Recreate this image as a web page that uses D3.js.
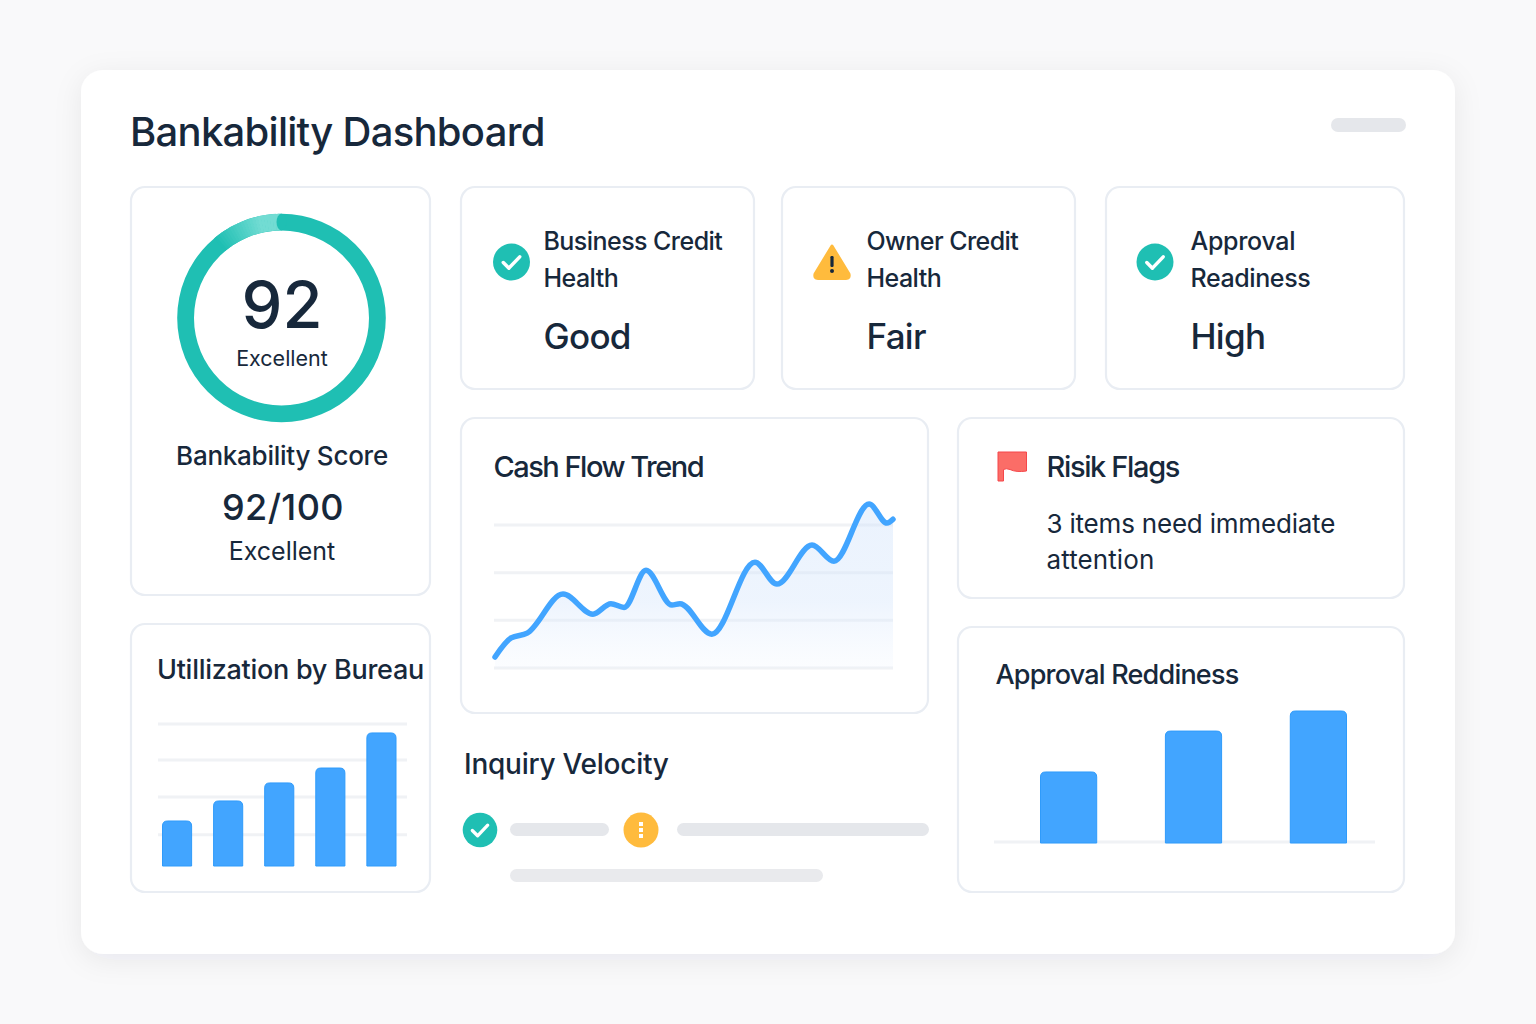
<!DOCTYPE html>
<html><head><meta charset="utf-8">
<script src="https://cdn.jsdelivr.net/npm/d3@7"></script>
<style>html,body{margin:0;padding:0;background:#f9f9fa;overflow:hidden}svg{display:block}text{font-family:Inter,"Noto Sans",sans-serif}</style>
</head><body><div id="chart"></div>
<script>
// ---- data ----
const scoreValue = 92;
const scoreMax = 100;
const cashPeriods = [0.25,4.3,8.3,17.3,24.8,29.3,32.6,38.1,44.6,46.6,54.6,65.4,70.9,79.7,85.2,94,98.5,100];
const cashValues = [2.3,6.3,7.3,15.5,11.3,13.5,12.7,20.5,13.2,13.5,7.1,22.2,17.6,25.8,22.4,34.4,30.4,31.2];
const cashGrid = [0,10,20,30];
const utilCategories = ["A","B","C","D","E"];
const utilValues = [31.7,45.8,58.5,69,93.7];
const utilGrid = [22,48.6,74.6,100];
const approvalCategories = ["A","B","C"];
const approvalValues = [53.8,84.8,100];

const svg = d3.select("#chart").append("svg").attr("width",1536).attr("height",1024);
const defs = svg.append("defs");
const sh = defs.append("filter").attr("id","sh").attr("x","-10%").attr("y","-10%").attr("width","120%").attr("height","120%");
sh.append("feDropShadow").attr("dx",0).attr("dy",6).attr("stdDeviation",14).attr("flood-color","#1f2a44").attr("flood-opacity",0.07);
const ag = defs.append("linearGradient").attr("id","area").attr("x1",0).attr("x2",0).attr("y1",0).attr("y2",1);
ag.append("stop").attr("offset","0%").attr("stop-color","#cfe2fb").attr("stop-opacity",0.42);
ag.append("stop").attr("offset","60%").attr("stop-color","#d6e6fc").attr("stop-opacity",0.42);
ag.append("stop").attr("offset","100%").attr("stop-color","#e6f0fe").attr("stop-opacity",0.15);

const INK="#17283b", TEAL="#1fbfb3", AMBER="#ffbb3d", BLUE="#42a5ff", BLUE2="#2f9bfb", GRID="#f0f2f5", BAR="#e5e7eb";

svg.append("rect").attr("x",81).attr("y",70).attr("width",1374).attr("height",884).attr("rx",22).attr("fill","#fff").attr("filter","url(#sh)");

function card(x0,y0,x1,y1){svg.append("rect").attr("x",x0).attr("y",y0).attr("width",x1-x0).attr("height",y1-y0).attr("rx",14).attr("fill","#fff").attr("stroke","#e9edf3").attr("stroke-width",2.2);}
function label(t,x,y,size,weight,anchor,fill,ls){return svg.append("text").attr("x",x).attr("y",y).attr("font-size",size).attr("font-weight",weight||400).attr("text-anchor",anchor||"start").attr("fill",fill||INK).attr("letter-spacing",ls||0).text(t);}
function pill(x0,x1,y,h,fill){svg.append("rect").attr("x",x0).attr("y",y).attr("width",x1-x0).attr("height",h).attr("rx",h/2).attr("fill",fill||BAR);}
function check(cx,cy,r){svg.append("circle").attr("cx",cx).attr("cy",cy).attr("r",r).attr("fill",TEAL);
  const k=r/18;
  svg.append("path").attr("d",d3.line()([[cx-8*k,cy+0.5*k],[cx-2.5*k,cy+6*k],[cx+8*k,cy-5*k]])).attr("fill","none").attr("stroke","#fff").attr("stroke-width",3.4*k).attr("stroke-linecap","round").attr("stroke-linejoin","round");}

label("Bankability Dashboard",130,146,40,500,"start",INK,-0.72);
pill(1331,1406,118,14,"#e5e7eb");

[[131,187,430,595],[461,187,754,389],[782,187,1075,389],[1106,187,1404,389],[461,418,928,713],[958,418,1404,598],[131,624,430,892],[958,627,1404,892]].forEach(c=>card(...c));

// score ring
const ringC=[281.5,318], rO=104.3, rI=87.5;
const ring=svg.append("g").attr("transform",`translate(${ringC})`);
const arc=d3.arc().innerRadius(rI).outerRadius(rO);
const scoreScale=d3.scaleLinear().domain([0,scoreMax]).range([0,2*Math.PI]);
const endAngle=scoreScale(scoreValue);
ring.append("path").attr("d",arc({startAngle:0,endAngle:2*Math.PI})).attr("fill",TEAL);
const fadeStart=endAngle-0.2;
const fade=d3.interpolateRgb(TEAL,"#72dcd3");
d3.range(24).forEach(i=>{const a=fadeStart+(2*Math.PI-fadeStart)*i/24,b=fadeStart+(2*Math.PI-fadeStart)*(i+1)/24+0.005;
 ring.append("path").attr("d",arc({startAngle:a,endAngle:Math.min(b,2*Math.PI)})).attr("fill",fade(Math.min(1,(i/24)*1.5)));});
ring.append("ellipse").attr("cx",0).attr("cy",-(rO+rI)/2).attr("rx",5).attr("ry",(rO-rI)/2).attr("fill",TEAL);
label(String(scoreValue),282,328,65,500,"middle");
label("Excellent",282,366,21.5,400,"middle");
label("Bankability Score",282,465,26,500,"middle",INK,-0.25);
label(scoreValue+"/"+scoreMax,283,519.5,36,500,"middle",INK,0.4);
label("Excellent",282,560,25,400,"middle");

// status cards
check(511.5,262,18.5);
const L=-0.55;
label("Business Credit",543.5,250,25,500,"start",INK,L); label("Health",543.5,287,25,500,"start",INK,L); label("Good",543.5,349,35,500,"start",INK,-0.7);
svg.append("path").attr("d","M832 246 L849 274 Q850 278.5 846 278.5 L818 278.5 Q814 278.5 815 274 Z").attr("fill",AMBER).attr("stroke",AMBER).attr("stroke-width",3).attr("stroke-linejoin","round");
svg.append("rect").attr("x",830.4).attr("y",256).attr("width",3.2).attr("height",11).attr("rx",1.2).attr("fill",INK);
svg.append("circle").attr("cx",832).attr("cy",271).attr("r",2).attr("fill",INK);
label("Owner Credit",866.5,250,25,500,"start",INK,L); label("Health",866.5,287,25,500,"start",INK,L); label("Fair",866.5,349,35,500,"start",INK,-0.7);
check(1155,262,18.5);
label("Approval",1190.5,250,25,500,"start",INK,-0.3); label("Readiness",1190.5,287,25,500,"start",INK,-0.4); label("High",1190.5,349,35,500,"start",INK,-0.7);

// cash flow
label("Cash Flow Trend",493.5,476.5,29,500,"start",INK,-1.5);
const cx=d3.scaleLinear().domain([0,100]).range([494,893]);
const cy=d3.scaleLinear().domain([0,30]).range([668,525]);
svg.append("g").selectAll("line").data(cashGrid).join("line").attr("x1",494).attr("x2",893).attr("y1",d=>cy(d)).attr("y2",d=>cy(d)).attr("stroke",GRID).attr("stroke-width",3);
const cashData=cashPeriods.map((p,i)=>[p,cashValues[i]]);
const crv=d3.curveMonotoneX;
svg.append("path").attr("d",d3.area().x(d=>cx(d[0])).y0(cy(0)).y1(d=>cy(d[1])).curve(crv)(cashData)).attr("fill","url(#area)");
svg.append("path").attr("d",d3.line().x(d=>cx(d[0])).y(d=>cy(d[1])).curve(crv)(cashData)).attr("fill","none").attr("stroke",BLUE).attr("stroke-width",5.5).attr("stroke-linecap","round").attr("stroke-linejoin","round");

// risk
svg.append("path").attr("d","M998 452 L1026.5 452 L1026.5 471 Q1016 472.5 1010 469.5 Q1006 468 1003.5 469.5 L1003.5 481 L998 481 Z").attr("fill","#fb6d67").attr("stroke","#f5474a").attr("stroke-width",1);
label("Risik Flags",1046.5,476.5,29,500,"start",INK,-1.35);
label("3 items need immediate",1046.5,533,26,400,"start",INK,-0.2); label("attention",1046.5,569,26,400,"start",INK,0.1);

// utilization
label("Utillization by Bureau",157,679,27,500,"start",INK,-0.28);
const ux=d3.scaleBand().domain(utilCategories).range([162.5,396]).paddingInner(0.43).paddingOuter(0);
const uy=d3.scaleLinear().domain([0,100]).range([866,724]);
svg.append("g").selectAll("line").data(utilGrid).join("line").attr("x1",158).attr("x2",407).attr("y1",d=>uy(d)).attr("y2",d=>uy(d)).attr("stroke",GRID).attr("stroke-width",3);
function topRound(x,y,w,h,r){return `M${x} ${y+h}V${y+r}Q${x} ${y} ${x+r} ${y}H${x+w-r}Q${x+w} ${y} ${x+w} ${y+r}V${y+h}Z`;}
svg.append("g").selectAll("path").data(utilCategories).join("path").attr("d",(c,i)=>topRound(ux(c),uy(utilValues[i]),ux.bandwidth(),uy(0)-uy(utilValues[i]),5)).attr("fill",BLUE).attr("stroke",BLUE2).attr("stroke-width",1);

// inquiry velocity
label("Inquiry Velocity",464,774,28,500,"start",INK,-0.25);
check(480,830,17.3);
pill(510,609,823,13); 
svg.append("circle").attr("cx",641).attr("cy",830).attr("r",17.5).attr("fill",AMBER);
[824,830,836].forEach(y=>svg.append("rect").attr("x",639).attr("y",y-2).attr("width",4).attr("height",4).attr("fill","#fff"));
pill(677,929,823,13); pill(510,823,869,13,"#e9eaed");

// approval
label("Approval Reddiness",995.5,684,27,500,"start",INK,-0.8);
const ax=d3.scaleBand().domain(approvalCategories).range([1040.5,1346.5]).paddingInner(0.55).paddingOuter(0);
const ay=d3.scaleLinear().domain([0,100]).range([843,711]);
svg.append("line").attr("x1",994).attr("x2",1375).attr("y1",842).attr("y2",842).attr("stroke",GRID).attr("stroke-width",3);
svg.append("g").selectAll("path").data(approvalCategories).join("path").attr("d",(c,i)=>topRound(ax(c),ay(approvalValues[i]),ax.bandwidth(),ay(0)-ay(approvalValues[i]),5)).attr("fill",BLUE).attr("stroke",BLUE2).attr("stroke-width",1);
</script></body></html>
